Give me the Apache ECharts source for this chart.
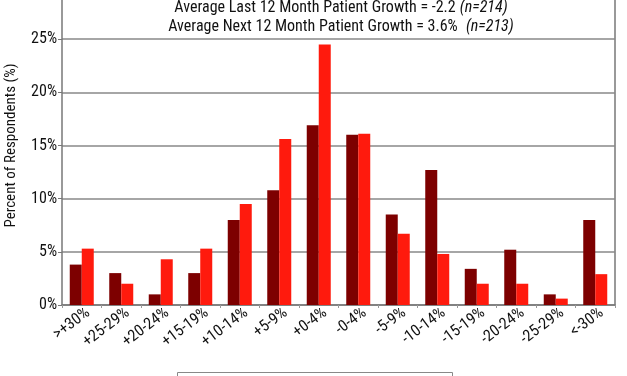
<!DOCTYPE html>
<html>
<head>
<meta charset="utf-8">
<script src="https://cdn.jsdelivr.net/npm/echarts@6/dist/echarts.min.js"></script>
<style>html,body{margin:0;padding:0;background:#fff;}#c{width:627px;height:376px;}</style>
</head>
<body>
<div id="c"></div>
<script>
const categories = ['>+30%', '+25-29%', '+20-24%', '+15-19%', '+10-14%', '+5-9%', '+0-4%', '-0-4%', '-5-9%', '-10-14%', '-15-19%', '-20-24%', '-25-29%', '<-30%'];
const lastTwelve = [3.8, 3.0, 1.0, 3.0, 8.0, 10.8, 16.9, 16.0, 8.5, 12.7, 3.4, 5.2, 1.0, 8.0];
const nextTwelve = [5.3, 2.0, 4.3, 5.3, 9.5, 15.6, 24.5, 16.1, 6.7, 4.8, 2.0, 2.0, 0.6, 2.9];
const seriesNames = ['Last 12 Months', 'Next 12 Months'];

const FONT = '"Liberation Sans Narrow", "Roboto Condensed", "Arial Narrow", "Liberation Sans", sans-serif';
const chart = echarts.init(document.getElementById('c'));
chart.setOption({
  animation: false,
  textStyle: { fontFamily: FONT },
  title: {
    left: 336, top: -7, textAlign: 'center',
    text: '{a|Average Last 12 Month Patient Growth = -2.2} {i|(n=214)}\n{a|Average Next 12 Month Patient Growth = 3.6%}  {i|(n=213)}',
    textStyle: {
      fontWeight: 'normal',
      rich: {
        a: { fontFamily: FONT, fontSize: 16, color: '#111', fontWeight: 'normal', lineHeight: 19 },
        i: { fontFamily: FONT, fontSize: 16, color: '#111', fontWeight: 'normal', fontStyle: 'italic', lineHeight: 19 }
      }
    }
  },
  grid: { left: 62, right: 12, top: -14, bottom: 71, outerBoundsMode: 'none', containLabel: false },
  xAxis: {
    type: 'category', data: categories,
    axisLine: { lineStyle: { color: '#777', width: 1.5 } },
    axisTick: { show: true, length: 3, lineStyle: { color: '#999' } },
    axisLabel: { rotate: 37, fontSize: 16, color: '#111', fontFamily: FONT, margin: 11, interval: 0, padding: [0, -8, 0, 0] }
  },
  yAxis: {
    type: 'value', min: 0, max: 30, interval: 5,
    name: 'Percent of Respondents (%)', nameLocation: 'middle', nameGap: 43,
    nameTextStyle: { fontSize: 15, color: '#111', fontFamily: FONT },
    axisLine: { show: true, lineStyle: { color: '#777', width: 1.5 } },
    axisTick: { show: true, length: 4, lineStyle: { color: '#777' } },
    axisLabel: { formatter: '{value}%', fontSize: 16, color: '#111', fontFamily: FONT, margin: 5 },
    splitLine: { lineStyle: { color: '#888', width: 1.5 } }
  },
  graphic: [
    { type: 'rect', left: 177, top: 372, shape: { width: 275, height: 30 }, style: { fill: '#fff', stroke: '#888', lineWidth: 1 } },
    { type: 'line', shape: { x1: 615, y1: 0, x2: 615, y2: 305 }, style: { stroke: '#777', lineWidth: 1.5 } }
  ],
  series: [
    { name: seriesNames[0], type: 'bar', data: lastTwelve, barWidth: 12, barGap: '0%', itemStyle: { color: '#7d0000' } },
    { name: seriesNames[1], type: 'bar', data: nextTwelve, barWidth: 12, barGap: '0%', itemStyle: { color: '#ff1a0d' } }
  ]
});
</script>
</body>
</html>
